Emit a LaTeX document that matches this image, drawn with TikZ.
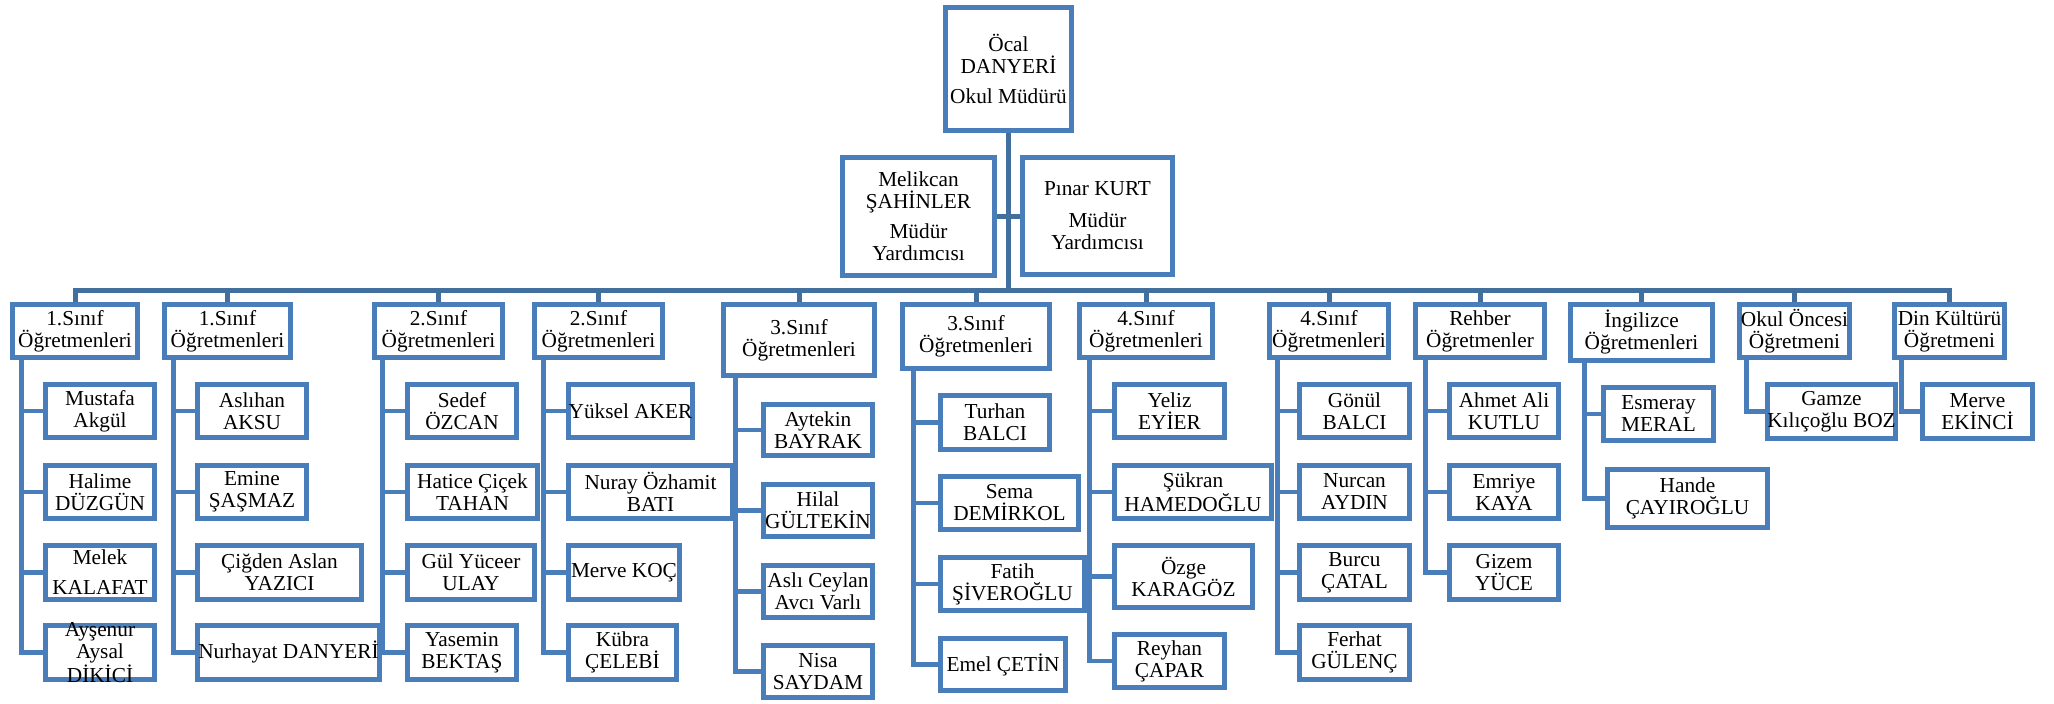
\documentclass[tikz,border=0pt]{standalone}
\usepackage{fontspec}
\setmainfont{Liberation Serif}
\usetikzlibrary{backgrounds}
\definecolor{boxblue}{HTML}{4A7EBB}
\definecolor{linkblue}{HTML}{41709F}
\newcommand\obox[6]{%
 \pgfmathsetmacro\obcx{(#2+#4)/2}%
 \pgfmathsetmacro\obcy{(#3+#5)/2}%
 \pgfmathsetmacro\obw{#4-#2-5}%
 \pgfmathsetmacro\obh{#5-#3-5}%
 \node[bx,minimum width=\obw pt,minimum height=\obh pt] (#1) at (\obcx,\obcy) {};
 \node[txt] (#1-t) at (#1.center) {#6};}
\newcommand\grp[3]{\foreach \ch in {#3}{\draw[cn] ([xshift=#2pt]#1.south west) |- (\ch.west);}}
\begin{document}
\begin{tikzpicture}[x=1pt,y=-1pt,
  bx/.style={draw=boxblue,line width=5pt,fill=white,inner sep=0pt},
  txt/.style={align=center,inner sep=0pt,font=\fontsize{21.3}{22}\selectfont},
  cn/.style={draw=boxblue,line width=4.5pt},
  bus/.style={draw=linkblue,line width=5pt}]
\useasboundingbox (0,0) rectangle (2054,704);
% top levels
\obox{top}{943}{5}{1074}{133}{Öcal\\DANYERİ\\[8pt]Okul Müdürü}
\obox{m1}{840}{155}{997}{278}{Melikcan\\ŞAHİNLER\\[8pt]Müdür\\Yardımcısı}
\obox{m2}{1020}{155}{1175}{277}{Pınar KURT\\[10pt]Müdür\\Yardımcısı}
% group heads
\obox{g1}{10}{302}{140}{360}{1.Sınıf\\Öğretmenleri}
\obox{g2}{162}{302}{293}{360}{1.Sınıf\\Öğretmenleri}
\obox{g3}{372}{302}{505}{360}{2.Sınıf\\Öğretmenleri}
\obox{g4}{532}{302}{665}{360}{2.Sınıf\\Öğretmenleri}
\obox{g5}{721}{302}{877}{378}{3.Sınıf\\Öğretmenleri}
\obox{g6}{900}{302}{1052}{371}{3.Sınıf\\Öğretmenleri}
\obox{g7}{1077}{302}{1215}{360}{4.Sınıf\\Öğretmenleri}
\obox{g8}{1267}{302}{1391}{360}{4.Sınıf\\Öğretmenleri}
\obox{g9}{1413}{302}{1547}{360}{Rehber\\Öğretmenler}
\obox{g10}{1568}{302}{1715}{363}{İngilizce\\Öğretmenleri}
\obox{g11}{1737}{302}{1852}{360}{Okul Öncesi\\Öğretmeni}
\obox{g12}{1892}{302}{2007}{360}{Din Kültürü\\Öğretmeni}
% group 1
\obox{a1}{43}{382}{157}{440}{Mustafa\\Akgül}
\obox{a2}{43}{463}{157}{521}{Halime\\DÜZGÜN}
\obox{a3}{43}{543}{157}{602}{Melek\\[8pt]KALAFAT}
\obox{a4}{43}{623}{157}{682}{Ayşenur\\Aysal\\DİKİCİ}
% group 2
\obox{b1}{195}{382}{309}{440}{Aslıhan\\AKSU}
\obox{b2}{195}{463}{309}{521}{Emine\\ŞAŞMAZ}
\obox{b3}{195}{543}{364}{602}{Çiğden Aslan\\YAZICI}
\obox{b4}{195}{623}{382}{682}{Nurhayat DANYERİ}
% group 3
\obox{c1}{405}{382}{519}{440}{Sedef\\ÖZCAN}
\obox{c2}{405}{463}{540}{521}{Hatice Çiçek\\TAHAN}
\obox{c3}{405}{543}{537}{602}{Gül Yüceer\\ULAY}
\obox{c4}{405}{623}{519}{682}{Yasemin\\BEKTAŞ}
% group 4
\obox{d1}{566}{382}{695}{440}{Yüksel AKER}
\obox{d2}{566}{463}{735}{521}{Nuray Özhamit\\BATI}
\obox{d3}{566}{543}{682}{602}{Merve KOÇ}
\obox{d4}{566}{623}{679}{682}{Kübra\\ÇELEBİ}
% group 5
\obox{e1}{761}{402}{875}{458}{Aytekin\\BAYRAK}
\obox{e2}{761}{482}{875}{539}{Hilal\\GÜLTEKİN}
\obox{e3}{761}{563}{875}{620}{Aslı Ceylan\\Avcı Varlı}
\obox{e4}{761}{643}{875}{700}{Nisa\\SAYDAM}
% group 6
\obox{f1}{938}{393}{1052}{452}{Turhan\\BALCI}
\obox{f2}{938}{474}{1081}{532}{Sema\\DEMİRKOL}
\obox{f3}{938}{555}{1087}{613}{Fatih\\ŞİVEROĞLU}
\obox{f4}{938}{636}{1068}{693}{Emel ÇETİN}
% group 7
\obox{h1}{1112}{382}{1227}{440}{Yeliz\\EYİER}
\obox{h2}{1112}{463}{1274}{521}{Şükran\\HAMEDOĞLU}
\obox{h3}{1112}{543}{1255}{610}{Özge\\KARAGÖZ}
\obox{h4}{1112}{632}{1227}{690}{Reyhan\\ÇAPAR}
% group 8
\obox{i1}{1297}{382}{1412}{440}{Gönül\\BALCI}
\obox{i2}{1297}{463}{1412}{521}{Nurcan\\AYDIN}
\obox{i3}{1297}{543}{1412}{602}{Burcu\\ÇATAL}
\obox{i4}{1297}{623}{1412}{682}{Ferhat\\GÜLENÇ}
% group 9
\obox{j1}{1447}{382}{1561}{440}{Ahmet Ali\\KUTLU}
\obox{j2}{1447}{463}{1561}{521}{Emriye\\KAYA}
\obox{j3}{1447}{543}{1561}{602}{Gizem\\YÜCE}
% group 10
\obox{k1}{1601}{385}{1716}{443}{Esmeray\\MERAL}
\obox{k2}{1605}{467}{1770}{530}{Hande\\ÇAYIROĞLU}
% group 11, 12
\obox{l1}{1765}{382}{1898}{441}{Gamze\\Kılıçoğlu BOZ}
\obox{n1}{1920}{382}{2035}{441}{Merve\\EKİNCİ}
\coordinate (hub) at (1008.5,290);
\begin{pgfonlayer}{background}
\draw[bus] (top.south) -- (hub);
\draw[bus] (m1.east) -- (m1.east -| hub);
\draw[bus] (m2.west) -- (m2.west -| hub);
\foreach \g in {g1,g2,g3,g4,g5,g6,g7,g8,g9,g10,g11,g12}{\draw[bus] (\g.north) |- (hub);}
\grp{g1}{11.5}{a1,a2,a3,a4}
\grp{g2}{11.5}{b1,b2,b3,b4}
\grp{g3}{10.5}{c1,c2,c3,c4}
\grp{g4}{11.5}{d1,d2,d3,d4}
\grp{g5}{14.5}{e1,e2,e3,e4}
\grp{g6}{13.5}{f1,f2,f3,f4}
\grp{g7}{12.5}{h1,h2,h3,h4}
\grp{g8}{10.5}{i1,i2,i3,i4}
\grp{g9}{12.5}{j1,j2,j3}
\grp{g10}{16.5}{k1,k2}
\grp{g11}{9.5}{l1}
\grp{g12}{9.5}{n1}
\end{pgfonlayer}
\end{tikzpicture}
\end{document}
